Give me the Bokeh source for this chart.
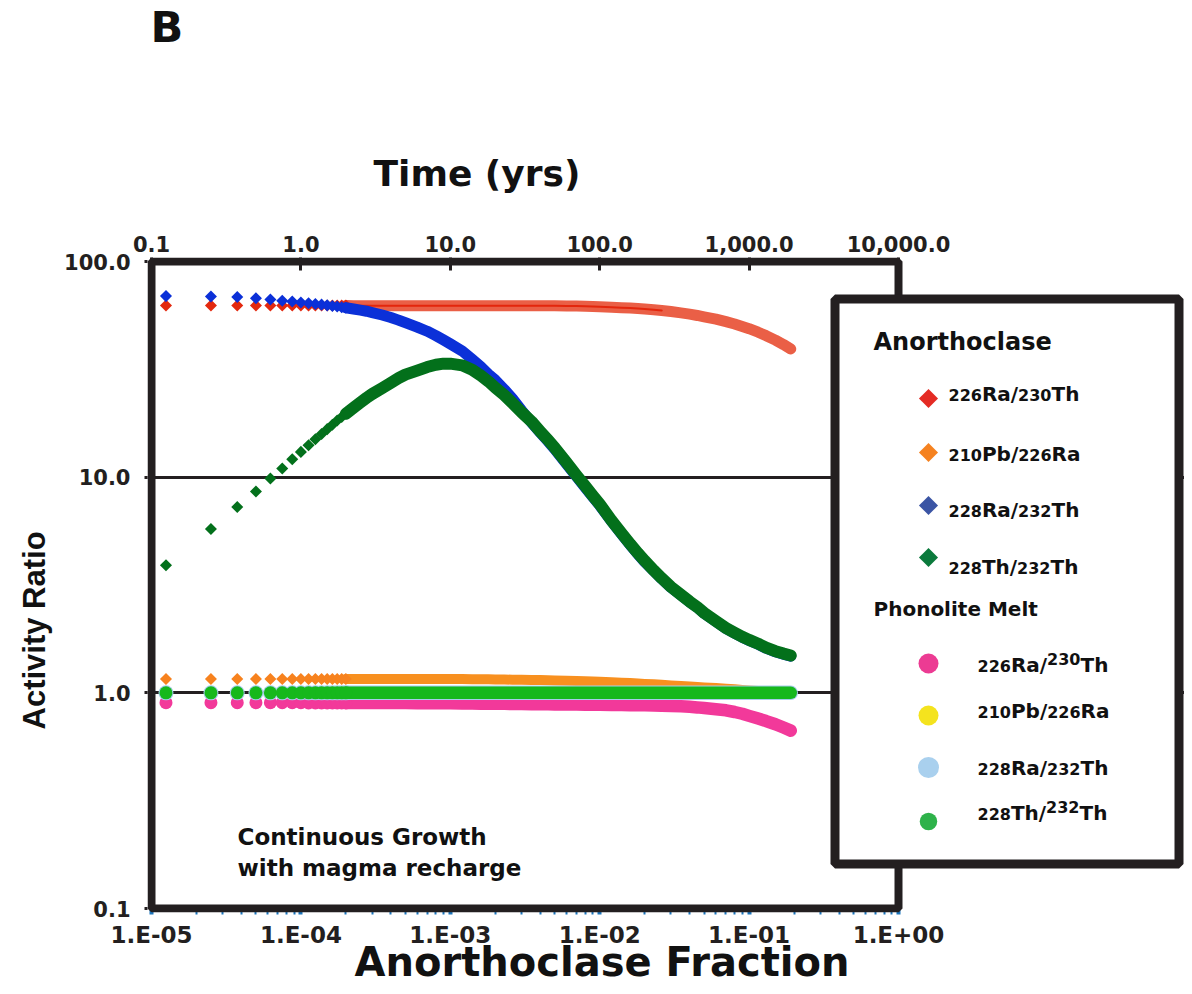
import math
from bokeh.plotting import figure
from bokeh.models import (Range1d, LogAxis, LogScale, LinearScale, FixedTicker, BoxAnnotation, Label,
                          ColumnDataSource, Title)
from bokeh.embed import file_html
from bokeh.resources import INLINE

# ---------------- data ----------------
T_YRS = [0.125, 0.25, 0.375, 0.5, 0.625, 0.75, 0.875, 1.0, 1.125, 1.25, 1.375, 1.5, 1.625, 1.75, 1.875, 2.0,
         2.25, 2.5, 2.75, 3.0, 3.5, 4.0, 4.5, 5.0, 6.0, 7.0, 8.0, 9.0, 10.0,
         12.0, 14.0, 16.0, 18.0, 20.0, 23.0, 26.0, 30.0, 35.0, 40.0, 45.0, 50.0,
         60.0, 70.0, 80.0, 90.0, 100.0, 120.0, 140.0, 160.0, 180.0, 200.0, 230.0, 260.0, 300.0,
         350.0, 400.0, 450.0, 500.0, 600.0, 700.0, 800.0, 900.0, 1000.0, 1150.0, 1300.0, 1500.0, 1700.0, 1900.0]

# Anorthoclase
ANO_RA226_TH230 = [62.5, 62.5, 62.5, 62.5, 62.5, 62.5, 62.5, 62.5, 62.5, 62.5, 62.5, 62.5, 62.5, 62.5, 62.5, 62.5,
                   62.4, 62.4, 62.4, 62.4, 62.4, 62.4, 62.4, 62.4, 62.4, 62.4, 62.4, 62.4, 62.4,
                   62.3, 62.3, 62.3, 62.3, 62.3, 62.3, 62.3, 62.3, 62.3, 62.3, 62.3, 62.3,
                   62.2, 62.1, 62.0, 61.9, 61.7, 61.4, 61.1, 60.8, 60.5, 60.2, 59.8, 59.3, 58.6,
                   57.8, 57.0, 56.2, 55.4, 54.0, 52.6, 51.3, 50.0, 48.8, 47.0, 45.3, 43.2, 41.2, 39.3]
ANO_PB210_RA226 = [1.16, 1.16, 1.16, 1.16, 1.16, 1.16, 1.16, 1.16, 1.16, 1.16, 1.16, 1.16, 1.16, 1.16, 1.16, 1.16,
                   1.16, 1.16, 1.16, 1.16, 1.16, 1.16, 1.16, 1.16, 1.16, 1.16, 1.16, 1.16, 1.16,
                   1.158, 1.157, 1.156, 1.155, 1.154, 1.152, 1.151, 1.15, 1.148, 1.146, 1.144, 1.142,
                   1.138, 1.135, 1.132, 1.129, 1.125, 1.12, 1.115, 1.11, 1.105, 1.10, 1.095, 1.09, 1.083,
                   1.077, 1.071, 1.065, 1.06, 1.052, 1.045, 1.038, 1.031, 1.026, 1.02, 1.015, 1.011, 1.008, 1.005]
ANO_RA228_TH232 = [69.1, 68.9, 68.5, 67.6, 66.6, 65.8, 65.2, 64.6, 64.1, 63.6, 63.1, 62.6, 62.2, 61.8, 61.4, 61.0,
                   60.2, 59.5, 58.8, 58.0, 56.5, 55.0, 53.5, 52.0, 49.6, 47.5, 45.3, 43.3, 41.5,
                   38.5, 35.2, 32.5, 30.0, 28.2, 25.5, 23.2, 20.4, 17.9, 16.1, 14.7, 13.5,
                   11.5, 10.05, 8.95, 8.1, 7.4, 6.25, 5.45, 4.85, 4.4, 4.05, 3.68, 3.38, 3.08,
                   2.84, 2.64, 2.49, 2.34, 2.14, 1.99, 1.89, 1.81, 1.75, 1.68, 1.61, 1.55, 1.51, 1.48]
ANO_TH228_TH232 = [3.9, 5.75, 7.27, 8.58, 9.86, 10.97, 12.1, 13.1, 14.07, 14.98, 15.85, 16.7, 17.5, 18.3, 19.0, 19.7,
                   21.0, 22.2, 23.3, 24.3, 25.9, 27.4, 28.8, 29.9, 31.2, 32.4, 33.2, 33.6, 33.6,
                   33.0, 31.5, 29.6, 27.8, 26.0, 24.0, 22.1, 20.0, 18.1, 16.3, 14.9, 13.7,
                   11.7, 10.2, 9.1, 8.2, 7.5, 6.3, 5.5, 4.9, 4.45, 4.1, 3.7, 3.4, 3.1,
                   2.85, 2.65, 2.5, 2.35, 2.15, 2.0, 1.9, 1.82, 1.76, 1.69, 1.62, 1.56, 1.52, 1.49]
# Phonolite melt
MELT_RA226_TH230 = [0.90, 0.90, 0.90, 0.90, 0.90, 0.90, 0.90, 0.90, 0.898, 0.898, 0.898, 0.898, 0.898, 0.898, 0.898, 0.898,
                    0.897, 0.897, 0.897, 0.897, 0.896, 0.896, 0.896, 0.896, 0.895, 0.895, 0.895, 0.895, 0.895,
                    0.893, 0.892, 0.891, 0.89, 0.89, 0.889, 0.888, 0.887, 0.886, 0.885, 0.885, 0.884,
                    0.883, 0.882, 0.881, 0.88, 0.88, 0.879, 0.878, 0.877, 0.876, 0.875, 0.874, 0.872, 0.87,
                    0.866, 0.861, 0.856, 0.85, 0.84, 0.83, 0.815, 0.80, 0.782, 0.76, 0.74, 0.715, 0.69, 0.668]
MELT_PB210_RA226 = [1.0, 1.0, 1.0, 1.0, 1.0, 1.0, 1.0, 1.0, 1.0, 1.0, 1.0, 1.0, 1.0, 1.0, 1.0, 1.0,
                    1.0, 1.0, 1.0, 1.0, 1.0, 1.0, 1.0, 1.0, 1.0, 1.0, 1.0, 1.0, 1.0,
                    1.0, 1.0, 1.0, 1.0, 1.0, 1.0, 1.0, 1.0, 1.0, 1.0, 1.0, 1.0,
                    1.0, 1.0, 1.0, 1.0, 1.0, 1.0, 1.0, 1.0, 1.0, 1.0, 1.0, 1.0, 1.0,
                    1.0, 1.0, 1.0, 1.0, 1.0, 1.0, 1.0, 1.0, 1.0, 1.0, 1.0, 1.0, 1.0, 1.0]
MELT_RA228_TH232 = [1.0, 1.0, 1.0, 1.0, 1.0, 1.0, 1.0, 1.0, 1.0, 1.0, 1.0, 1.0, 1.0, 1.0, 1.0, 1.0,
                    1.0, 1.0, 1.0, 1.0, 1.0, 1.0, 1.0, 1.0, 1.0, 1.0, 1.0, 1.0, 1.0,
                    1.0, 1.0, 1.0, 1.0, 1.0, 1.0, 1.0, 1.0, 1.0, 1.0, 1.0, 1.0,
                    1.0, 1.0, 1.0, 1.0, 1.0, 1.0, 1.0, 1.0, 1.0, 1.0, 1.0, 1.0, 1.0,
                    1.0, 1.0, 1.0, 1.0, 1.0, 1.0, 1.0, 1.0, 1.0, 1.0, 1.0, 1.0, 1.0, 1.0]
MELT_TH228_TH232 = [1.0, 1.0, 1.0, 1.0, 1.0, 1.0, 1.0, 1.0, 1.0, 1.0, 1.0, 1.0, 1.0, 1.0, 1.0, 1.0,
                    1.0, 1.0, 1.0, 1.0, 1.0, 1.0, 1.0, 1.0, 1.0, 1.0, 1.0, 1.0, 1.0,
                    1.0, 1.0, 1.0, 1.0, 1.0, 1.0, 1.0, 1.0, 1.0, 1.0, 1.0, 1.0,
                    1.0, 1.0, 1.0, 1.0, 1.0, 1.0, 1.0, 1.0, 1.0, 1.0, 1.0, 1.0, 1.0,
                    1.0, 1.0, 1.0, 1.0, 1.0, 1.0, 1.0, 1.0, 1.0, 1.0, 1.0, 1.0, 1.0, 1.0]

# ticks / labels
TIME_TICKS = [0.1, 1.0, 10.0, 100.0, 1000.0, 10000.0]
TIME_LABELS = ["0.1", "1.0", "10.0", "100.0", "1,000.0", "10,000.0"]
FRAC_TICKS = [1e-05, 1e-04, 1e-03, 1e-02, 1e-01, 1.0]
FRAC_LABELS = ["1.E-05", "1.E-04", "1.E-03", "1.E-02", "1.E-01", "1.E+00"]
Y_TICKS = [0.1, 1.0, 10.0, 100.0]
Y_LABELS = ["0.1", "1.0", "10.0", "100.0"]
GRID_TICKS = [1.0, 10.0]

ANO_ENTRIES = [["226", "Ra/", "230", "Th"], ["210", "Pb/", "226", "Ra"],
               ["228", "Ra/", "232", "Th"], ["228", "Th/", "232", "Th"]]
MELT_ENTRIES = [["226", "Ra/", "230", "Th"], ["210", "Pb/", "226", "Ra"],
                ["228", "Ra/", "232", "Th"], ["228", "Th/", "232", "Th"]]
MELT_SUPER = [True, False, False, True]
ANO_KEY_COLORS = ["#e42b24", "#f58220", "#3b55a4", "#0b7a3c"]
MELT_KEY_COLORS = ["#ec3b93", "#f4e31e", "#a9d0ee", "#2eb24a"]

# ---------------- layout (canvas px) ----------------
INK = "#231f20"
FONT = "DejaVu Sans"
W, H = 1184, 988
BOX_L, BOX_R, BOX_T, BOX_B = 151, 898, 261, 908     # drawn plot box (line centres)
FL, FT, FB = 147, 257, 912                          # bokeh frame (extends right under the legend)
PX_DEC_X = (BOX_R - BOX_L) / 5.0
PX_DEC_Y = (BOX_B - BOX_T) / 3.0

def sx(x):
    return x - FL

def sy(y):
    return FB - y

t_lo = TIME_TICKS[0] * 10 ** (-(BOX_L - FL) / PX_DEC_X)
t_hi = TIME_TICKS[0] * 10 ** ((W - BOX_L) / PX_DEC_X)
f_lo = FRAC_TICKS[0] * 10 ** (-(BOX_L - FL) / PX_DEC_X)
f_hi = FRAC_TICKS[0] * 10 ** ((W - BOX_L) / PX_DEC_X)
v_lo = Y_TICKS[0] * 10 ** (-(FB - BOX_B) / PX_DEC_Y)
v_hi = Y_TICKS[-1] * 10 ** ((BOX_T - FT) / PX_DEC_Y)

N_EARLY = 16       # individually visible markers (t <= 2 yr)
BAND_START = 15    # from here on the markers merge into a band
RED_CORE_END = 53

cols = dict(t=T_YRS, red=ANO_RA226_TH230, orange=ANO_PB210_RA226, blue=ANO_RA228_TH232,
            green=ANO_TH228_TH232, pink=MELT_RA226_TH230, yellow=MELT_PB210_RA226,
            lblue=MELT_RA228_TH232, lgreen=MELT_TH228_TH232)
early = ColumnDataSource({k: v[:N_EARLY] for k, v in cols.items()})
band = ColumnDataSource({k: v[BAND_START:] for k, v in cols.items()})
redcore = ColumnDataSource({k: v[BAND_START:RED_CORE_END] for k, v in cols.items()})

p = figure(width=W, height=H, x_axis_type="log", y_axis_type="log",
           x_range=Range1d(t_lo, t_hi), y_range=Range1d(v_lo, v_hi),
           x_axis_location="above", output_backend="svg", toolbar_location=None,
           min_border_left=FL, min_border_right=0, min_border_top=FT, min_border_bottom=H - FB)
p.outline_line_color = None
p.background_fill_color = "white"
p.border_fill_color = "white"

p.extra_x_ranges = {"frac": Range1d(f_lo, f_hi), "px": Range1d(0, W - FL)}
p.extra_x_scales = {"frac": LogScale(), "px": LinearScale()}
p.extra_y_ranges = {"py": Range1d(0, FB - FT)}
p.extra_y_scales = {"py": LinearScale()}

def style_axis(ax, size):
    ax.axis_line_color = None
    ax.major_label_text_font = FONT
    ax.major_label_text_font_style = "bold"
    ax.major_label_text_font_size = size
    ax.major_label_text_color = INK
    ax.minor_tick_line_color = None

top = p.xaxis[0]
top.ticker = FixedTicker(ticks=TIME_TICKS, minor_ticks=[])
top.major_label_overrides = dict(zip(TIME_TICKS, TIME_LABELS))
style_axis(top, "21px")
top.major_tick_in = 13
top.major_tick_out = 0
top.major_tick_line_color = INK
top.major_tick_line_width = 3
top.major_label_standoff = 6

minor = [m * d for d in FRAC_TICKS[:-1] for m in range(2, 10)]
bottom = LogAxis(x_range_name="frac", ticker=FixedTicker(ticks=FRAC_TICKS, minor_ticks=minor))
bottom.major_label_overrides = dict(zip(FRAC_TICKS, FRAC_LABELS))
style_axis(bottom, "23px")
bottom.major_tick_in = 5
bottom.major_tick_out = 2
bottom.major_tick_line_color = "#1b75bc"
bottom.major_tick_line_width = 4
bottom.minor_tick_line_color = "#1b75bc"
bottom.minor_tick_line_width = 2
bottom.minor_tick_in = 5
bottom.minor_tick_out = 2
bottom.major_label_standoff = 7
p.add_layout(bottom, "below")

left = p.yaxis[0]
left.ticker = FixedTicker(ticks=Y_TICKS, minor_ticks=[])
left.major_label_overrides = dict(zip(Y_TICKS, Y_LABELS))
style_axis(left, "21px")
left.major_tick_in = 0
left.major_tick_out = 3
left.major_tick_line_color = INK
left.major_tick_line_width = 3
left.major_label_standoff = 14

p.xgrid.grid_line_color = None
p.ygrid.ticker = FixedTicker(ticks=GRID_TICKS)
p.ygrid.grid_line_color = INK
p.ygrid.grid_line_width = 3

# ---------------- titles (side panels) ----------------
p.add_layout(Title(text="Time (yrs)", align="left", offset=226, vertical_align="bottom", standoff=78,
                   text_font=FONT, text_font_style="bold", text_font_size="36px", text_color="#111111"), "above")
p.add_layout(Title(text="\u00a0", align="left", offset=0, vertical_align="bottom", standoff=45,
                   text_font=FONT, text_font_size="10px"), "above")
p.add_layout(Title(text="B", align="left", offset=3, vertical_align="top", standoff=0,
                   text_font=FONT, text_font_style="bold", text_font_size="43px", text_color="#111111"), "above")
p.add_layout(Title(text="Anorthoclase Fraction", align="left", offset=207, vertical_align="top", standoff=-24,
                   text_font=FONT, text_font_style="bold", text_font_size="40px", text_color="#111111"), "below")
p.add_layout(Title(text="Activity Ratio", align="left", offset=183, vertical_align="bottom", standoff=20,
                   text_font="Liberation Sans", text_font_style="bold", text_font_size="31px",
                   text_color="#111111"), "left")

# ---------------- data marks ----------------
DIA = dict(marker="square", angle=math.pi / 4, line_color=None)
BAND = dict(line_join="round", line_cap="round")

p.line("t", "red", source=band, line_color="#ea5f46", line_width=11, **BAND)
p.line("t", "red", source=redcore, line_color="#e3260c", line_width=2, **BAND)
p.scatter("t", "red", source=early, size=8.5, fill_color="#e3290f", **DIA)
p.line("t", "blue", source=band, line_color="#0b30d8", line_width=11, **BAND)
p.scatter("t", "blue", source=early, size=8.5, fill_color="#0b30d8", **DIA)
p.line("t", "green", source=band, line_color="#03701b", line_width=12, **BAND)
p.scatter("t", "green", source=early, size=8.5, fill_color="#03701b", **DIA)
p.line("t", "orange", source=band, line_color="#f8901f", line_width=10, **BAND)
p.scatter("t", "orange", source=early, size=8.5, fill_color="#f7821e", **DIA)
p.line("t", "pink", source=band, line_color="#f2399a", line_width=12.5, **BAND)
p.scatter("t", "pink", source=early, marker="circle", size=13, fill_color="#f2399a", line_color=None)
p.line("t", "yellow", source=band, line_color="#f6e71f", line_width=12, **BAND)
p.scatter("t", "yellow", source=early, marker="circle", size=13, fill_color="#f6e71f", line_color=None)
p.line("t", "lblue", source=band, line_color="#a7cdeb", line_width=14.5, **BAND)
p.scatter("t", "lblue", source=early, marker="circle", size=15, fill_color="#a7cdeb", line_color=None)
p.line("t", "lgreen", source=band, line_color="#16b81c", line_width=12.5, **BAND)
p.scatter("t", "lgreen", source=early, marker="circle", size=13, fill_color="#16b81c", line_color=None)

# plot box
p.add_layout(BoxAnnotation(left=TIME_TICKS[0], right=TIME_TICKS[-1], bottom=Y_TICKS[0], top=Y_TICKS[-1],
                           fill_color=None, line_color=INK, line_width=8, line_alpha=1.0))

# ---------------- legend (box, keys, rich-text labels) ----------------
p.add_layout(BoxAnnotation(left=sx(834.5), right=sx(1178.5), top=sy(298.5), bottom=sy(863.5),
                           left_units="screen", right_units="screen", top_units="screen", bottom_units="screen",
                           fill_color="white", fill_alpha=1.0, line_color=INK, line_width=9, line_alpha=1.0))

KEY_X = sx(928)
ano_keys = ColumnDataSource(dict(x=[KEY_X] * 4, y=[sy(v) for v in (398, 452, 505, 557)], c=ANO_KEY_COLORS))
melt_keys = ColumnDataSource(dict(x=[KEY_X] * 4, y=[sy(v) for v in (663, 715, 767, 821)], c=MELT_KEY_COLORS,
                                  s=[20, 20, 21, 17.5]))
p.scatter("x", "y", source=ano_keys, x_range_name="px", y_range_name="py", marker="square",
          angle=math.pi / 4, size=13.5, fill_color="c", line_color=None, level="overlay")
p.scatter("x", "y", source=melt_keys, x_range_name="px", y_range_name="py", marker="circle",
          size="s", fill_color="c", line_color=None, level="overlay")

ADV = {"0": 0.696, "1": 0.696, "2": 0.696, "3": 0.696, "4": 0.696, "5": 0.696, "6": 0.696,
       "7": 0.696, "8": 0.696, "9": 0.696, "R": 0.770, "a": 0.675, "/": 0.365, "T": 0.682,
       "h": 0.712, "P": 0.733, "b": 0.716}
BASE_FIX = 0.38   # observed shift of the drawn baseline, in em

def label(x, base, text, size, align="left"):
    p.add_layout(Label(x=sx(x), y=sy(base - BASE_FIX * size), x_units="screen", y_units="screen",
                       text=text, text_font=FONT, text_font_style="bold", text_font_size=f"{size}px",
                       text_color="#111111", text_align=align, text_baseline="alphabetic"))

def rich(parts, x0, base, sup):
    x = x0
    for i, part in enumerate(parts):
        size = 16 if i % 2 == 0 else 20
        raise_ = 7 if (sup and i == 2) else 0
        label(x, base - raise_, part, size)
        x += sum(ADV[c] for c in part) * size

label(873, 351, "Anorthoclase", 24)
for parts, base in zip(ANO_ENTRIES, [401, 461, 517, 574]):
    rich(parts, 948, base, False)
label(873, 616, "Phonolite Melt", 20)
for parts, base, sup in zip(MELT_ENTRIES, [672, 718, 775, 820], MELT_SUPER):
    rich(parts, 977, base, sup)

label(237, 845, "Continuous Growth", 23)
label(237, 876, "with magma recharge", 23)

open("out.html", "w").write(file_html(p, INLINE))
